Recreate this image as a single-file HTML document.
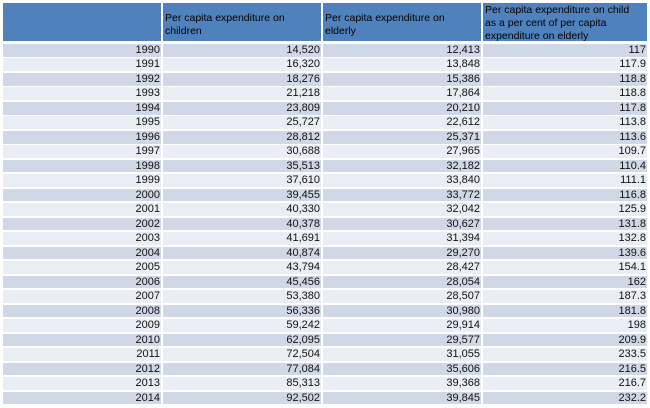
<!DOCTYPE html>
<html><head><meta charset="utf-8"><style>
body{margin:0;width:650px;height:408px;background:#fff;font-family:"Liberation Sans",Arial,sans-serif;font-size:11px;color:#000;overflow:hidden;position:relative}
.wrap{position:absolute;left:3px;top:3px}
.r{display:grid;grid-template-columns:158px 158px 158px 164px;column-gap:2px;height:12.6px;margin-bottom:1.9px}
.r div{text-align:right;line-height:12.6px;padding-right:1px;white-space:nowrap;color:#111}
.h{display:grid;grid-template-columns:158px 158px 158px 164px;column-gap:2px;height:38px;margin-bottom:3px}
.h div{background:#4f81bd;line-height:13px;padding:2px 0 0 2px;font-size:10.5px;box-sizing:border-box;height:38px}
.r:nth-child(even) div{background:#d0d8e8}
.r:nth-child(odd) div{background:#e9edf4}
</style></head><body><div class="wrap">
<div class="h"><div></div><div style="padding-top:9px">Per capita expenditure on<br>children</div><div style="padding-top:9px">Per capita expenditure on<br>elderly</div><div style="padding-top:1px">Per capita expenditure on child<br>as a per cent of per capita<br>expenditure on elderly</div></div>
<div class="r"><div>1990</div><div>14,520</div><div>12,413</div><div>117</div></div>
<div class="r"><div>1991</div><div>16,320</div><div>13,848</div><div>117.9</div></div>
<div class="r"><div>1992</div><div>18,276</div><div>15,386</div><div>118.8</div></div>
<div class="r"><div>1993</div><div>21,218</div><div>17,864</div><div>118.8</div></div>
<div class="r"><div>1994</div><div>23,809</div><div>20,210</div><div>117.8</div></div>
<div class="r"><div>1995</div><div>25,727</div><div>22,612</div><div>113.8</div></div>
<div class="r"><div>1996</div><div>28,812</div><div>25,371</div><div>113.6</div></div>
<div class="r"><div>1997</div><div>30,688</div><div>27,965</div><div>109.7</div></div>
<div class="r"><div>1998</div><div>35,513</div><div>32,182</div><div>110.4</div></div>
<div class="r"><div>1999</div><div>37,610</div><div>33,840</div><div>111.1</div></div>
<div class="r"><div>2000</div><div>39,455</div><div>33,772</div><div>116.8</div></div>
<div class="r"><div>2001</div><div>40,330</div><div>32,042</div><div>125.9</div></div>
<div class="r"><div>2002</div><div>40,378</div><div>30,627</div><div>131.8</div></div>
<div class="r"><div>2003</div><div>41,691</div><div>31,394</div><div>132.8</div></div>
<div class="r"><div>2004</div><div>40,874</div><div>29,270</div><div>139.6</div></div>
<div class="r"><div>2005</div><div>43,794</div><div>28,427</div><div>154.1</div></div>
<div class="r"><div>2006</div><div>45,456</div><div>28,054</div><div>162</div></div>
<div class="r"><div>2007</div><div>53,380</div><div>28,507</div><div>187.3</div></div>
<div class="r"><div>2008</div><div>56,336</div><div>30,980</div><div>181.8</div></div>
<div class="r"><div>2009</div><div>59,242</div><div>29,914</div><div>198</div></div>
<div class="r"><div>2010</div><div>62,095</div><div>29,577</div><div>209.9</div></div>
<div class="r"><div>2011</div><div>72,504</div><div>31,055</div><div>233.5</div></div>
<div class="r"><div>2012</div><div>77,084</div><div>35,606</div><div>216.5</div></div>
<div class="r"><div>2013</div><div>85,313</div><div>39,368</div><div>216.7</div></div>
<div class="r"><div>2014</div><div>92,502</div><div>39,845</div><div>232.2</div></div>
</div></body></html>
